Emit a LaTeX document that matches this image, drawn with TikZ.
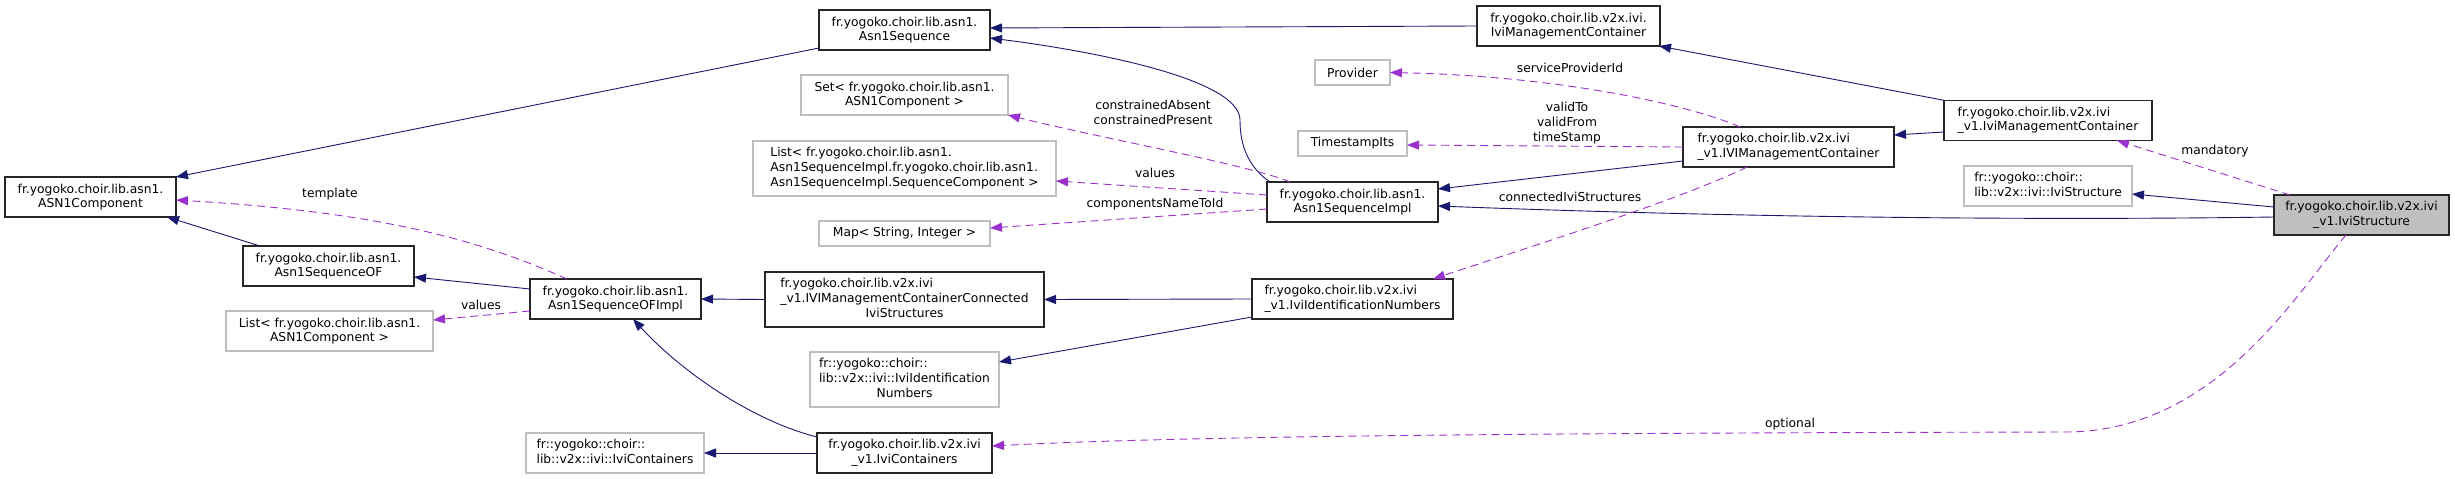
\documentclass[tikz,border=0pt]{standalone}
\usepackage{fontspec}
\setmainfont{DejaVu Sans}
\usetikzlibrary{arrows.meta,calc}
\definecolor{inhcol}{HTML}{191970}
\definecolor{usecol}{HTML}{9A32CD}
\definecolor{grayb}{HTML}{BFBFBF}
\newcommand{\lcx}[2]{\begin{tabular}{@{}l@{}}#1\\\multicolumn{1}{@{}c@{}}{#2}\end{tabular}}
\newcommand{\llx}[1]{\begin{tabular}{@{}l@{}}#1\end{tabular}}
\begin{document}
\begin{tikzpicture}[x=1pt,y=-1pt,
  every node/.style={font=\fontsize{12.3}{14.7}\selectfont, inner sep=0pt, outer sep=0pt},
  wh/.style 2 args={minimum width=#1, minimum height=#2},
  cls/.style={draw=black!85, line width=1.1pt, fill=white},
  ext/.style={draw=grayb, line width=1.1pt, fill=white},
  mainn/.style={draw=black!85, line width=1.1pt, fill=grayb},
  lbl/.style={align=center},
  inh/.style={draw=inhcol, line width=0.9pt, -{Triangle[length=12pt,width=9pt]}},
  useedge/.style={draw=usecol, line width=0.9pt, dash pattern=on 8pt off 5pt, -{Triangle[length=12pt,width=9pt]}}]
\fill[white] (0,0) rectangle (2455,479);
\useasboundingbox (0,0) rectangle (2455,479);

\node[cls, wh={171}{40}, align=center] (comp) at (90.5,197) {fr.yogoko.choir.lib.asn1.\\ASN1Component};
\node[cls, wh={171}{40}, align=center] (seqof) at (328.5,266) {fr.yogoko.choir.lib.asn1.\\Asn1SequenceOF};
\node[cls, wh={171}{40}, align=center] (seq) at (904.5,30) {fr.yogoko.choir.lib.asn1.\\Asn1Sequence};
\node[ext, wh={207}{40}, align=center] (set) at (904.5,95) {Set< fr.yogoko.choir.lib.asn1.\\ASN1Component >};
\node[ext, wh={303}{55}] (listsc) at (904.5,168.5) {\llx{List< fr.yogoko.choir.lib.asn1.\\Asn1SequenceImpl.fr.yogoko.choir.lib.asn1.\\Asn1SequenceImpl.SequenceComponent >}};
\node[ext, wh={171}{25}] (map) at (904.5,233.5) {Map< String, Integer >};
\node[cls, wh={171}{40}, align=center] (seqimpl) at (1352.5,202) {fr.yogoko.choir.lib.asn1.\\Asn1SequenceImpl};
\node[ext, wh={207}{40}, align=center] (listc) at (329.5,331) {List< fr.yogoko.choir.lib.asn1.\\ASN1Component >};
\node[cls, wh={171}{40}, align=center] (ofimpl) at (615.5,299) {fr.yogoko.choir.lib.asn1.\\Asn1SequenceOFImpl};
\node[ext, wh={178}{40}] (contif) at (615,453) {\llx{fr::yogoko::choir::\\lib::v2x::ivi::IviContainers}};
\node[cls, wh={279}{55}] (conn) at (904.5,299.5) {\lcx{fr.yogoko.choir.lib.v2x.ivi\\\_v1.IVIManagementContainerConnected}{IviStructures}};
\node[ext, wh={189}{55}] (idif) at (904.5,379.5) {\lcx{fr::yogoko::choir::\\lib::v2x::ivi::IviIdentification}{Numbers}};
\node[cls, wh={175}{40}] (cont) at (904.5,453) {\lcx{fr.yogoko.choir.lib.v2x.ivi}{\_v1.IviContainers}};
\node[cls, wh={201}{40}] (idnum) at (1352.5,299) {\llx{fr.yogoko.choir.lib.v2x.ivi\\\_v1.IviIdentificationNumbers}};
\node[ext, wh={75}{25}] (prov) at (1352.5,72.5) {Provider};
\node[ext, wh={109}{25}] (ts) at (1352.5,143.5) {TimestampIts};
\node[cls, wh={183}{40}, align=center] (mcivi) at (1568.5,26) {fr.yogoko.choir.lib.v2x.ivi.\\IviManagementContainer};
\node[cls, wh={211}{40}] (mcIVI) at (1788.5,147) {\llx{fr.yogoko.choir.lib.v2x.ivi\\\_v1.IVIManagementContainer}};
\node[cls, wh={208}{40}] (mcv1) at (2048,120.5) {\llx{fr.yogoko.choir.lib.v2x.ivi\\\_v1.IviManagementContainer}};
\node[ext, wh={168}{40}] (structif) at (2048,186) {\llx{fr::yogoko::choir::\\lib::v2x::ivi::IviStructure}};
\node[mainn, wh={175}{40}] (struct) at (2361.5,215) {\lcx{fr.yogoko.choir.lib.v2x.ivi}{\_v1.IviStructure}};

% inheritance
\draw[inh] ($(seq.south west)+(0,-2)$) -- (comp.north east);
\draw[inh] ($(seqof.north west)+(17,0)$) -- ($(comp.south east)+(-9,0)$);
\draw[inh] ($(ofimpl.west)+(0,-10)$) -- ($(seqof.east)+(0,11)$);
\draw[inh] (conn.west) -- (ofimpl.east);
\draw[inh] ($(cont.west)+(0,-16)$) .. controls (750,420) and (680,370) .. ($(ofimpl.south)+(17.5,0)$);
\draw[inh] (cont.west) -- (contif.east);
\draw[inh] (idnum.west) -- (conn.east);
\draw[inh] ($(idnum.south west)+(0,-2)$) -- ($(idif.east)+(0,-17.5)$);
\draw[inh] ($(seqimpl.north west)+(3,0)$) .. controls (1245,165) and (1240,140) .. (1240,120) .. controls (1240,80) and (1100,52) .. ($(seq.east)+(0,8)$);
\draw[inh] ($(mcIVI.west)+(0,14)$) -- ($(seqimpl.east)+(0,-13)$);
\draw[inh] (mcivi.west) -- ($(seq.east)+(0,-2)$);
\draw[inh] ($(mcv1.north west)+(1,0)$) -- ($(mcivi.south east)+(-1,0)$);
\draw[inh] ($(mcv1.west)+(0,11.5)$) -- ($(mcIVI.east)+(0,-12)$);
\draw[inh] ($(struct.west)+(0,-8)$) -- ($(structif.east)+(0,8)$);
\draw[inh] ($(struct.west)+(0,2)$) .. controls (2000,221) and (1700,216) .. ($(seqimpl.east)+(0,4)$);

% usage
\draw[useedge] ($(ofimpl.north west)+(37,0)$) .. controls (480,240) and (380,212) .. ($(comp.east)+(0,3)$);
\draw[useedge] ($(ofimpl.west)+(0,12)$) -- ($(listc.east)+(0,-11)$);
\draw[useedge] ($(struct.south)+(-15.5,0)$) .. controls (2295,295) and (2215,432) .. (2065,432) .. controls (1600,433) and (1200,435) .. ($(cont.east)+(0,-7)$);
\draw[useedge] ($(mcIVI.south)+(-41.5,0)$) .. controls (1680,200) and (1520,250) .. ($(idnum.north)+(80.5,0)$);
\draw[useedge] (mcIVI.west) -- ($(ts.east)+(0,1.5)$);
\draw[useedge] ($(mcIVI.north)+(-48.5,0)$) .. controls (1690,105) and (1560,76) .. (prov.east);
\draw[useedge] ($(seqimpl.north west)+(23,0)$) .. controls (1250,165) and (1100,138) .. (set.south east);
\draw[useedge] ($(seqimpl.west)+(0,-7)$) -- ($(listsc.east)+(0,12.5)$);
\draw[useedge] ($(seqimpl.west)+(0,7)$) -- ($(map.east)+(0,-5.5)$);
\draw[useedge] ($(struct.north west)+(16,0)$) -- ($(mcv1.south)+(69,0)$);

% labels
\node[lbl] (l1) at (330,194) {template};
\node[lbl] (l2) at (481,305) {values};
\node[lbl] (l3) at (1790,424) {optional};
\node[lbl] (l4) at (1570,197) {connectedIviStructures};
\node[lbl] (l5) at (1567,123) {validTo\\validFrom\\timeStamp};
\node[lbl] (l6) at (1570,68) {serviceProviderId};
\node[lbl] (l7) at (1153,112.5) {constrainedAbsent\\constrainedPresent};
\node[lbl] (l8) at (1155,173) {values};
\node[lbl] (l9) at (1155,204) {componentsNameToId};
\node[lbl] (l10) at (2215,151) {mandatory};
\end{tikzpicture}
\end{document}
